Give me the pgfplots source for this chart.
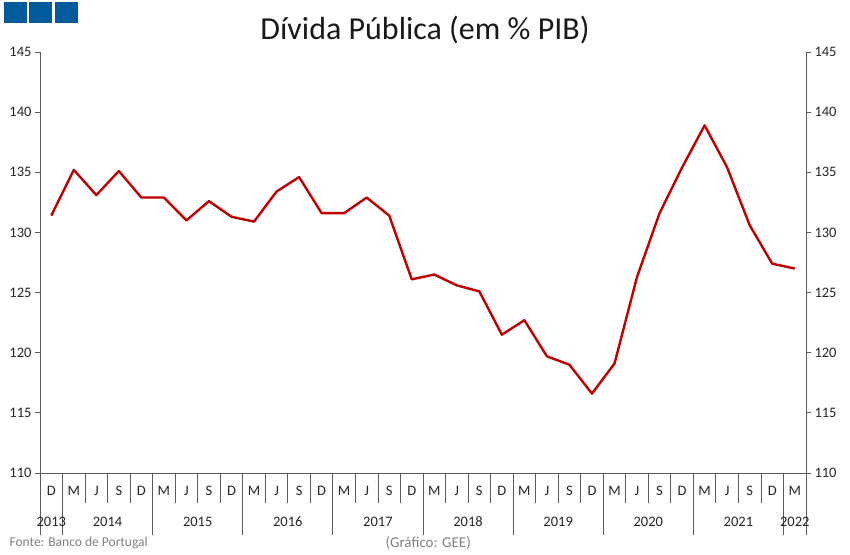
\documentclass[border=0pt]{standalone}
\usepackage{fontspec}
\setmainfont{Carlito}
\usepackage{pgfplots}
\usepackage{pgfplotstable}
\pgfplotsset{compat=1.18}
\definecolor{linered}{RGB}{192,0,0}
\definecolor{gblue}{RGB}{0,90,156}
\definecolor{axisgray}{RGB}{90,90,90}

% divida publica, % do PIB, fim de trimestre (D 2013 ... M 2022)
\pgfplotstableread{
idx val
0  131.4
1  135.2
2  133.1
3  135.1
4  132.9
5  132.9
6  131.0
7  132.6
8  131.3
9  130.9
10 133.4
11 134.6
12 131.6
13 131.6
14 132.9
15 131.4
16 126.1
17 126.5
18 125.6
19 125.1
20 121.5
21 122.7
22 119.7
23 119.0
24 116.6
25 119.1
26 126.3
27 131.6
28 135.4
29 138.9
30 135.4
31 130.6
32 127.4
33 127.0
}\divida

\pgfplotsset{
    geeAxis/.style={
        at={(40pt,81pt)}, anchor=south west,
        scale only axis, width=766pt, height=421pt,
        xmin=-0.5, xmax=33.5, ymin=110, ymax=145,
        axis line style={axisgray, line width=0.8pt},
        tick style={axisgray, line width=0.8pt},
        tick align=outside,
        tick label style={font=\fontsize{14.5}{17}\selectfont, text=black!85},
        /pgf/number format/assume math mode=true,
    },
    yAxisOnly/.style={geeAxis,
        ytick={110,115,...,145}, major tick length=5pt,
        xtick=\empty,
    },
    xAxisOnly/.style={geeAxis,
        axis x line*=bottom, hide y axis,
        major tick length=0pt,
        xticklabel style={anchor=center},
    },
}

\begin{document}
\begin{tikzpicture}[x=1pt,y=1pt]
\useasboundingbox (0,0) rectangle (850,554);
\fill[gblue] (4,531) rectangle (27,552);
\fill[gblue] (29,531) rectangle (52,552);
\fill[gblue] (55,531) rectangle (78,552);
\node[font=\fontsize{32}{38}\selectfont, text=black!90] at (425,524) {Dívida Pública (em \% PIB)};
\node[anchor=west, font=\fontsize{13.5}{16}\selectfont, text=black!50] at (6,11) {Fonte: Banco de Portugal};
\node[anchor=west, font=\fontsize{15}{17}\selectfont, text=black!50] at (382,11) {(Gráfico: GEE)};

% valor + eixo esquerdo
\begin{axis}[yAxisOnly, axis x line*=bottom, axis y line*=left]
\addplot[linered, line width=2.4pt, line join=round] table[x=idx, y=val] {\divida};
\end{axis}

% eixo direito
\begin{axis}[yAxisOnly, hide x axis, axis y line*=right]
\addplot[draw=none] table[x=idx, y=val] {\divida};
\end{axis}

% meses
\begin{axis}[xAxisOnly,
    xtick={0,...,33},
    xticklabels={D,M,J,S,D,M,J,S,D,M,J,S,D,M,J,S,D,M,J,S,D,M,J,S,D,M,J,S,D,M,J,S,D,M},
    minor xtick={-0.5,0.5,...,33.5},
    minor tick length=30pt,
    xticklabel style={yshift=-18pt},
]
\addplot[draw=none] table[x=idx, y=val] {\divida};
\end{axis}

% anos
\begin{axis}[xAxisOnly,
    xtick={0,2.5,6.5,10.5,14.5,18.5,22.5,26.5,30.5,33},
    xticklabels={2013,2014,2015,2016,2017,2018,2019,2020,2021,2022},
    minor xtick={-0.5,0.5,4.5,8.5,12.5,16.5,20.5,24.5,28.5,32.5,33.5},
    minor tick length=62pt,
    xticklabel style={yshift=-49pt},
]
\addplot[draw=none] table[x=idx, y=val] {\divida};
\end{axis}
\end{tikzpicture}
\end{document}
